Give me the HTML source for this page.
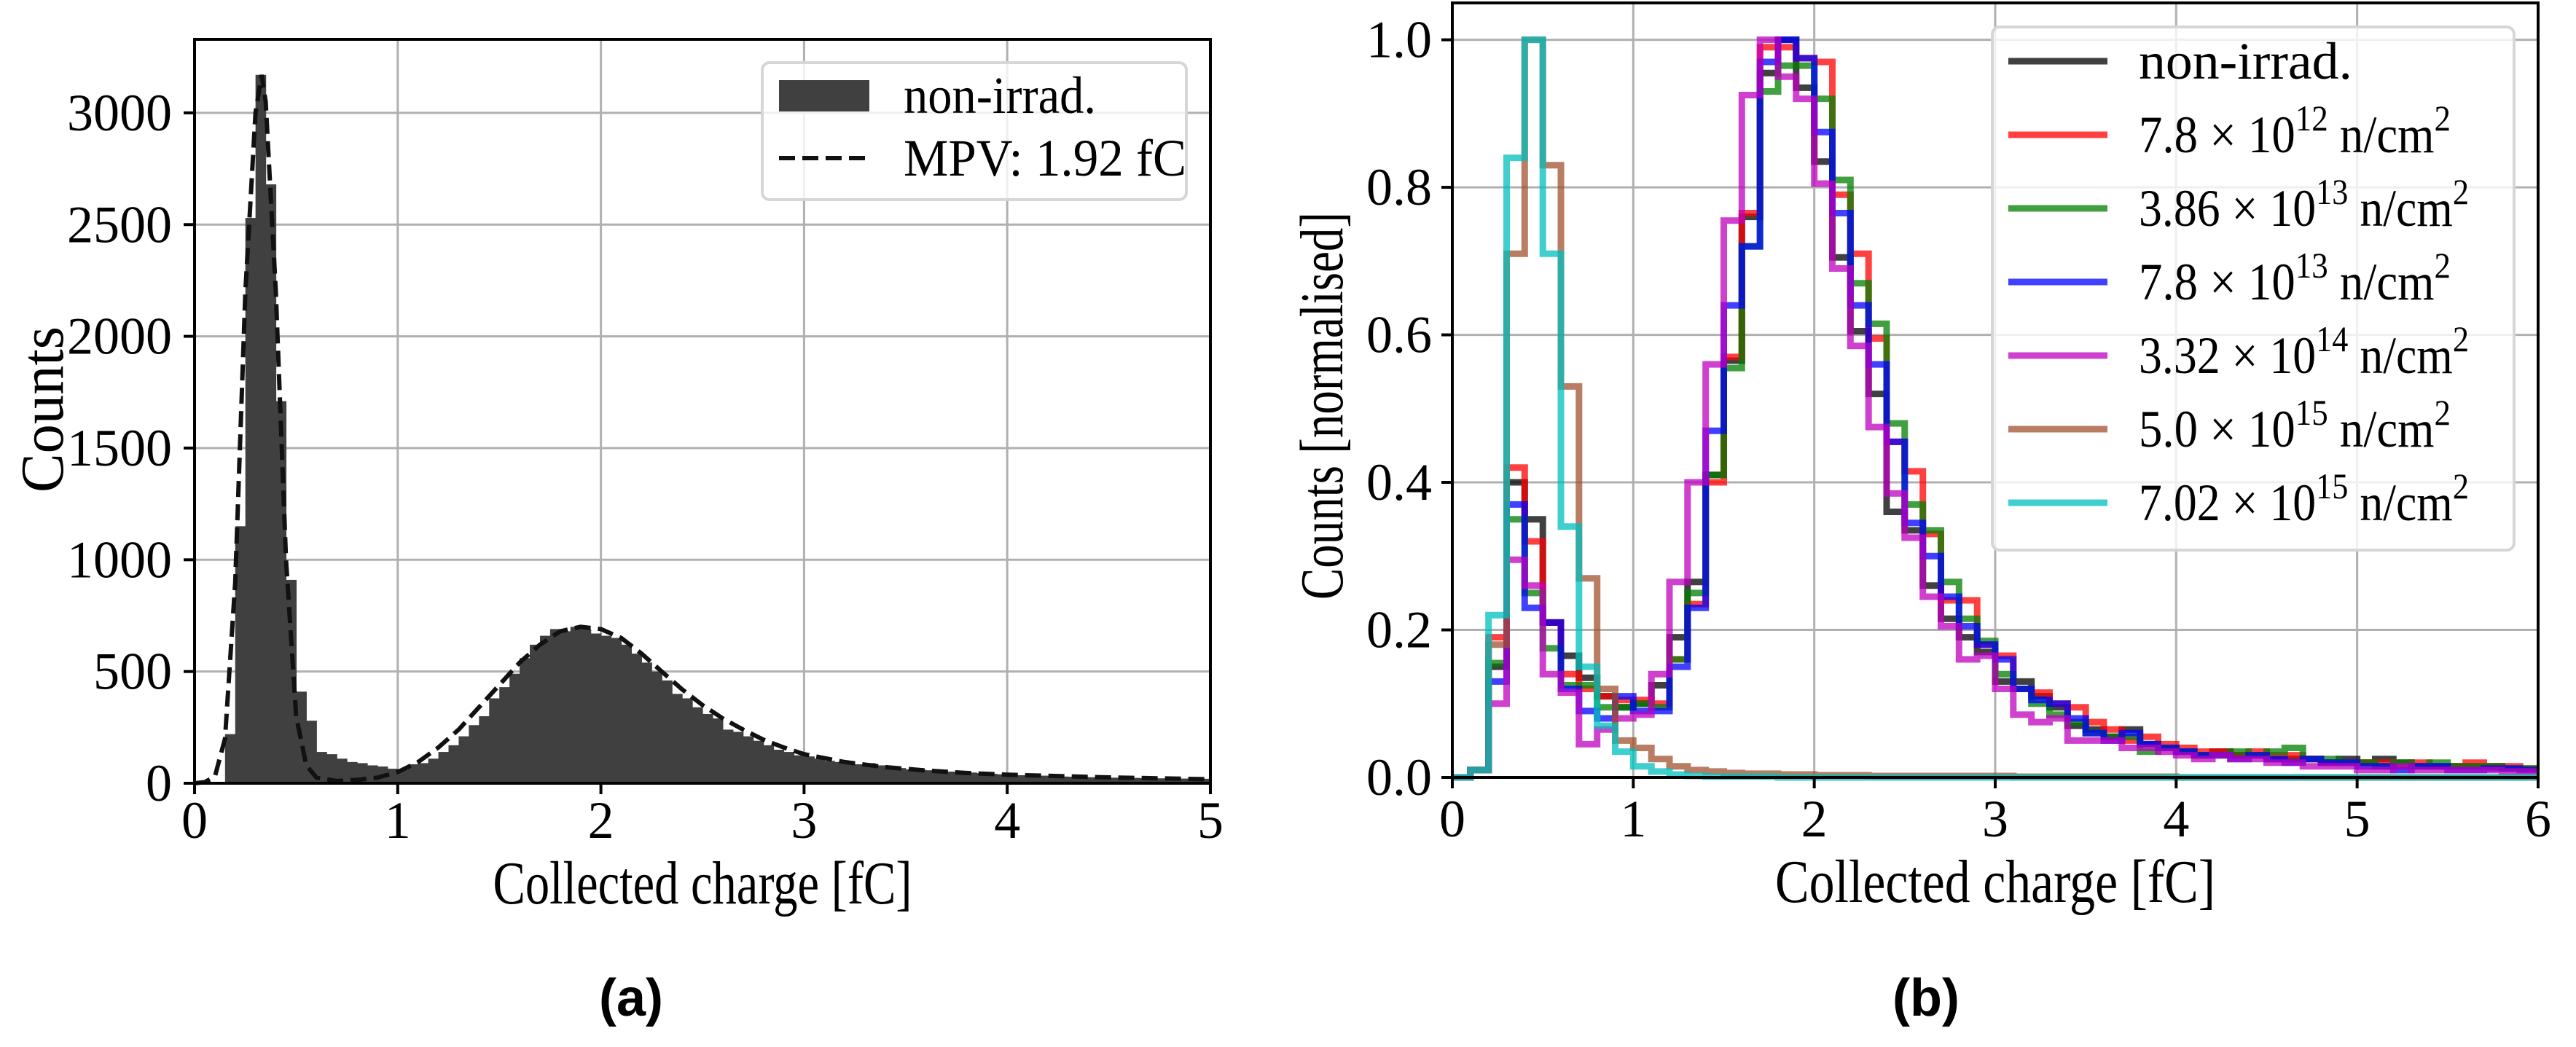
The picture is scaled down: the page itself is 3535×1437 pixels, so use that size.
<!DOCTYPE html>
<html><head><meta charset="utf-8"><style>
html,body{margin:0;padding:0;background:#fff;}
svg{display:block;font-family:"Liberation Serif",serif;}
</style></head><body>
<svg id="fig" width="3535" height="1437" viewBox="0 0 3535 1437" xmlns="http://www.w3.org/2000/svg">
<g id="pa"></g>
<g id="pb"></g>
</svg>
<script>
// ---------- Panel (a) data ----------
const aBinStart = 0.0;
const aBinWidth = 0.05;
const aCounts = [0,0,0,220,1150,2530,3170,2680,1710,910,410,280,140,130,110,95,90,80,75,65,60,85,90,110,140,170,210,260,300,380,430,490,560,620,660,690,680,700,690,670,660,650,620,580,540,500,460,400,380,340,310,290,240,230,210,190,170,150,140,125,120,110,100,95,88,85,90,80,72,68,62,60,58,56,52,50,48,45,42,40,38,36,35,34,32,30,29,28,27,26,25,24,24,23,22,22,21,21,20,20];
const aFitX = [0,0.05,0.1,0.15,0.2,0.25,0.3,0.33,0.35,0.4,0.45,0.5,0.55,0.6,0.7,0.8,0.9,1.0,1.1,1.2,1.3,1.4,1.5,1.6,1.7,1.8,1.9,2.0,2.1,2.2,2.3,2.4,2.5,2.6,2.7,2.8,2.9,3.0,3.2,3.4,3.6,3.8,4.0,4.5,5.0];
const aFitY = [0,5,30,200,900,2200,3000,3170,3050,2200,1000,300,80,25,10,15,25,50,95,160,240,340,440,540,620,680,700,690,650,580,500,420,350,290,240,195,160,130,95,72,57,46,38,26,18];
const aXTicks = [0,1,2,3,4,5];
const aYTicks = [0,500,1000,1500,2000,2500,3000];

// ---------- Panel (b) data ----------
const bBinWidth = 0.1;
const tailBlack = [0.04,0.035,0.03,0.035,0.03,0.03,0.025,0.025,0.025,0.02,0.025,0.02,0.025,0.02,0.015,0.015,0.015,0.015,0.015,0.012,0.012];
const bBlack = [0,0.01,0.15,0.40,0.35,0.21,0.165,0.135,0.11,0.095,0.10,0.125,0.19,0.265,0.41,0.565,0.76,0.955,1.0,0.935,0.835,0.705,0.605,0.52,0.36,0.335,0.26,0.215,0.19,0.17,0.13,0.13,0.11,0.095,0.07,0.065,0.055,0.065,0.045].concat(tailBlack);
const bRed = [0,0.01,0.19,0.42,0.32,0.21,0.14,0.12,0.11,0.105,0.105,0.10,0.16,0.235,0.40,0.57,0.765,0.99,0.99,0.975,0.97,0.79,0.71,0.595,0.455,0.415,0.33,0.24,0.24,0.18,0.165,0.12,0.115,0.10,0.095,0.075,0.065,0.05,0.055,0.045,0.04,0.035,0.035,0.03,0.035,0.03,0.03,0.025,0.02,0.02,0.02,0.02,0.015,0.02,0.015,0.015,0.02,0.015,0.015,0.012];
const bGreen = [0,0.01,0.155,0.35,0.25,0.175,0.125,0.125,0.095,0.095,0.10,0.095,0.16,0.25,0.41,0.555,0.72,0.93,0.965,0.965,0.92,0.81,0.67,0.615,0.48,0.37,0.335,0.265,0.215,0.185,0.14,0.12,0.10,0.085,0.075,0.06,0.055,0.055,0.035,0.04,0.035,0.03,0.03,0.035,0.03,0.035,0.04,0.025,0.025,0.02,0.02,0.015,0.02,0.015,0.02,0.015,0.015,0.015,0.012,0.012];
const bBlue = [0,0.01,0.13,0.37,0.23,0.21,0.12,0.09,0.08,0.11,0.09,0.09,0.15,0.23,0.47,0.64,0.72,0.97,1.0,0.975,0.875,0.765,0.64,0.56,0.455,0.345,0.30,0.245,0.205,0.18,0.16,0.12,0.105,0.10,0.08,0.06,0.05,0.06,0.045,0.04,0.035,0.03,0.03,0.025,0.03,0.025,0.02,0.025,0.02,0.02,0.015,0.015,0.01,0.015,0.015,0.01,0.01,0.012,0.012,0.01];
const bMagenta = [0,0.01,0.10,0.295,0.26,0.14,0.115,0.045,0.065,0.08,0.085,0.14,0.265,0.40,0.56,0.755,0.925,1.0,0.95,0.92,0.805,0.69,0.585,0.475,0.385,0.325,0.245,0.205,0.16,0.165,0.12,0.085,0.075,0.08,0.05,0.05,0.05,0.04,0.04,0.035,0.03,0.025,0.03,0.025,0.025,0.02,0.02,0.015,0.015,0.015,0.01,0.01,0.015,0.01,0.01,0.01,0.01,0.01,0.008,0.008];
const bBrown = [0,0.01,0.18,0.71,1.0,0.83,0.53,0.27,0.12,0.05,0.04,0.025,0.015,0.01,0.008,0.006,0.005,0.005,0.004,0.004,0.003,0.003,0.003,0.002,0.002,0.002,0.002,0.002,0.002,0.002,0.002,0.001,0.001,0.001,0.001,0.001,0.001,0.001,0.001,0.001,0,0,0,0,0,0,0,0,0,0,0,0,0,0,0,0,0,0,0,0];
const bCyan = [0,0.01,0.22,0.84,1.0,0.71,0.34,0.15,0.07,0.035,0.015,0.008,0.004,0.002,0.001,0.001,0.001,0.001,0,0,0,0,0,0,0,0,0,0,0,0,0,0,0,0,0,0,0,0,0,0,0,0,0,0,0,0,0,0,0,0,0,0,0,0,0,0,0,0,0,0];
const bSeriesNames = ["non-irrad.","7.8e12","3.86e13","7.8e13","3.32e14","5.0e15","7.02e15"];
const bMantissa = ["","7.8","3.86","7.8","3.32","5.0","7.02"];
const bExponent = ["","12","13","13","14","15","15"];
const bXTicks = [0,1,2,3,4,5,6];
const bYTicks = [0,0.2,0.4,0.6,0.8,1.0];

const NS="http://www.w3.org/2000/svg";
function mk(parent,tag,attrs,text){const e=document.createElementNS(NS,tag);for(const k in attrs)e.setAttribute(k,attrs[k]);if(text!==undefined)e.textContent=text;parent.appendChild(e);return e;}

// ---------- Panel A ----------
(function(){
const g=document.getElementById('pa');
const L=267,R=1661,T=54,B=1075,xmin=0,xmax=5,ymin=0,ymax=3329;
const X=v=>L+(v-xmin)/(xmax-xmin)*(R-L);
const Y=v=>B-(v-ymin)/(ymax-ymin)*(B-T);
aXTicks.forEach(t=>{const l=mk(g,'line',{x1:X(t),x2:X(t),y1:T,y2:B,stroke:'#b0b0b0','stroke-width':3});
});
aYTicks.forEach(t=>{const l=mk(g,'line',{x1:L,x2:R,y1:Y(t),y2:Y(t),stroke:'#b0b0b0','stroke-width':3});
});
aCounts.forEach((c,i)=>{if(c<=0)return;const x0=X(aBinStart+i*aBinWidth),x1=X(aBinStart+(i+1)*aBinWidth);
const r=mk(g,'rect',{x:x0,y:Y(c),width:x1-x0+0.6,height:B-Y(c),fill:'#404040'});
});
let d='';aFitX.forEach((x,i)=>{d+=(i?'L':'M')+X(x).toFixed(1)+' '+Y(aFitY[i]).toFixed(1);});
const fit=mk(g,'path',{d:d,fill:'none',stroke:'#111','stroke-width':6,'stroke-dasharray':'22 10'});

const ax=mk(g,'rect',{x:L,y:T,width:R-L,height:B-T,fill:'none',stroke:'#000','stroke-width':4});

aXTicks.forEach(t=>{mk(g,'line',{x1:X(t),x2:X(t),y1:B,y2:B+15,stroke:'#000','stroke-width':4});
const s=mk(g,'text',{x:X(t),y:1150,'font-size':72,'text-anchor':'middle'},String(t));
});
aYTicks.forEach(t=>{mk(g,'line',{x1:L-15,x2:L,y1:Y(t),y2:Y(t),stroke:'#000','stroke-width':4});
const s=mk(g,'text',{x:236,y:Y(t)+24,'font-size':72,'text-anchor':'end'},String(t));
});
const xl=mk(g,'text',{x:(L+R)/2,y:1240,'font-size':84,'text-anchor':'middle',textLength:575,lengthAdjust:'spacingAndGlyphs'},'Collected charge [fC]');

const yl=mk(g,'text',{x:0,y:0,'font-size':84,'text-anchor':'middle',textLength:228,lengthAdjust:'spacingAndGlyphs',transform:'translate(86,562) rotate(-90)'},'Counts');

const lg=mk(g,'g',{});
mk(lg,'rect',{x:1046,y:86,width:582,height:188,rx:10,fill:'#fff','fill-opacity':0.8,stroke:'#d6d6d6','stroke-width':4});
const p=mk(lg,'rect',{x:1069,y:110,width:124,height:43,fill:'#404040'});

mk(lg,'text',{x:1240,y:155,'font-size':72,textLength:264,lengthAdjust:'spacingAndGlyphs'},'non-irrad.');
const dl=mk(lg,'line',{x1:1069,x2:1193,y1:217,y2:217,stroke:'#111','stroke-width':6,'stroke-dasharray':'22 10'});

mk(lg,'text',{x:1240,y:241,'font-size':72,textLength:388,lengthAdjust:'spacingAndGlyphs'},'MPV: 1.92 fC');
const ti=mk(g,'text',{x:866,y:1394,'font-size':72,'font-weight':'bold','text-anchor':'middle','font-family':'Liberation Sans, sans-serif'},'(a)');

})();

// ---------- Panel B ----------
(function(){
const g=document.getElementById('pb');
const L=1993,R=3483,T=4,B=1067,xmin=0,xmax=6,ymin=0,ymax=1.05;
const X=v=>L+(v-xmin)/(xmax-xmin)*(R-L);
const Y=v=>B-(v-ymin)/(ymax-ymin)*(B-T);
bXTicks.forEach(t=>{const l=mk(g,'line',{x1:X(t),x2:X(t),y1:T,y2:B,stroke:'#b0b0b0','stroke-width':3});
});
bYTicks.forEach(t=>{const l=mk(g,'line',{x1:L,x2:R,y1:Y(t),y2:Y(t),stroke:'#b0b0b0','stroke-width':3});
});
const series=[bBlack,bRed,bGreen,bBlue,bMagenta,bBrown,bCyan];
const colors=['#000000','#ff0000','#008000','#0000ff','#bf00bf','#a0522d','#00bfbf'];
const names=['series-non-irrad','series-7-8e12','series-3-86e13','series-7-8e13','series-3-32e14','series-5-0e15','series-7-02e15'];
series.forEach((s,k)=>{let d='M'+X(0)+' '+Y(0);
s.forEach((v,i)=>{d+=' L'+X(i*bBinWidth).toFixed(1)+' '+Y(v).toFixed(1)+' L'+X((i+1)*bBinWidth).toFixed(1)+' '+Y(v).toFixed(1);});
const p=mk(g,'path',{d:d,fill:'none',stroke:colors[k],'stroke-opacity':0.75,'stroke-width':9,'stroke-linejoin':'miter'});
});
const ax=mk(g,'rect',{x:L,y:T,width:R-L,height:B-T,fill:'none',stroke:'#000','stroke-width':4});

bXTicks.forEach(t=>{mk(g,'line',{x1:X(t),x2:X(t),y1:B,y2:B+15,stroke:'#000','stroke-width':4});
const s=mk(g,'text',{x:X(t),y:1148,'font-size':72,'text-anchor':'middle'},String(t));
});
bYTicks.forEach(t=>{mk(g,'line',{x1:L-15,x2:L,y1:Y(t),y2:Y(t),stroke:'#000','stroke-width':4});
const s=mk(g,'text',{x:1965,y:Y(t)+24,'font-size':72,'text-anchor':'end'},t.toFixed(1));
});
const xl=mk(g,'text',{x:(L+R)/2,y:1238,'font-size':84,'text-anchor':'middle',textLength:604,lengthAdjust:'spacingAndGlyphs'},'Collected charge [fC]');

const yl=mk(g,'text',{x:0,y:0,'font-size':84,'text-anchor':'middle',textLength:532,lengthAdjust:'spacingAndGlyphs',transform:'translate(1842,557) rotate(-90)'},'Counts [normalised]');

const lg=mk(g,'g',{});
mk(lg,'rect',{x:2734,y:37,width:716,height:718,rx:10,fill:'#fff','fill-opacity':0.8,stroke:'#d6d6d6','stroke-width':4});
const legW=[293,428,453,428,453,428,453];
bSeriesNames.forEach((n,k)=>{const cy=84+k*101;
const ln=mk(lg,'line',{x1:2756,x2:2892,y1:cy,y2:cy,stroke:colors[k],'stroke-opacity':0.75,'stroke-width':9});

const t=mk(lg,'text',{x:2935,y:cy+24,'font-size':72,textLength:legW[k],lengthAdjust:'spacingAndGlyphs'});

if(k===0){t.textContent='non-irrad.';}else{
mk(t,'tspan',{},bMantissa[k]+' × 10');
mk(t,'tspan',{'font-size':50,dy:-30},bExponent[k]);
mk(t,'tspan',{dy:30},' n/cm');
mk(t,'tspan',{'font-size':50,dy:-30},'2');}
});
const ti=mk(g,'text',{x:2643,y:1394,'font-size':72,'font-weight':'bold','text-anchor':'middle','font-family':'Liberation Sans, sans-serif'},'(b)');

})();
</script>
</body></html>
